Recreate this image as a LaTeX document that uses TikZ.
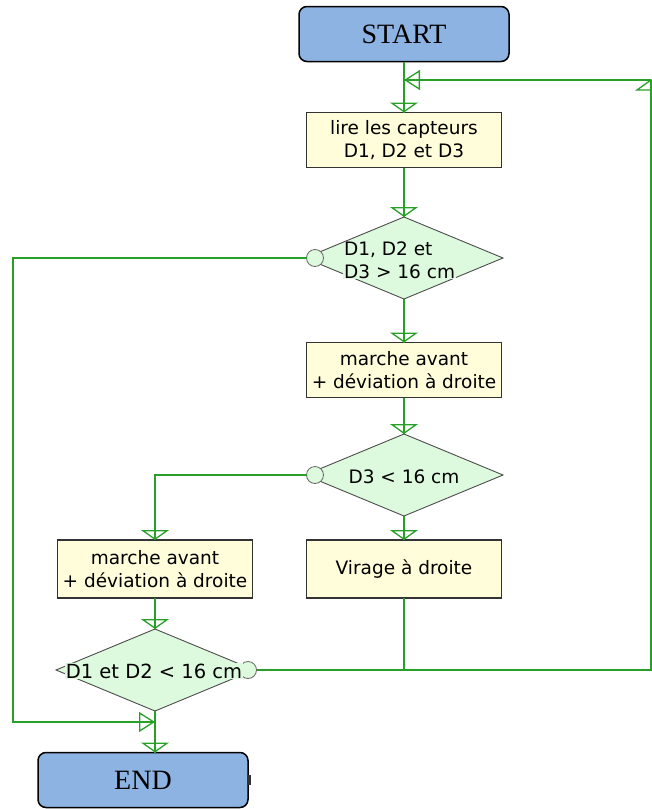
\documentclass[tikz,border=0pt]{standalone}
\usepackage{fontspec}
\newfontfamily\sansb{DejaVu Sans}
\newfontfamily\serifb{Liberation Serif}
\usetikzlibrary{shapes.geometric,arrows.meta,calc}
\definecolor{lgreen}{RGB}{40,160,40}
\definecolor{dfill}{RGB}{222,250,222}
\definecolor{bfill}{RGB}{255,253,218}
\definecolor{sblue}{RGB}{141,179,226}
\begin{document}
\begin{tikzpicture}[x=1pt,y=-1pt,
  term/.style={draw=black, line width=1.5pt, rounded corners=8pt, fill=sblue,
    minimum width=210pt, minimum height=55pt, inner sep=0pt, outer sep=0pt,
    font=\serifb\fontsize{28}{30}\selectfont},
  proc/.style={draw=black!80, line width=1.3pt, fill=bfill, minimum width=195pt,
    minimum height=55pt, inner sep=0pt, outer sep=0pt, align=center,
    font=\sansb\fontsize{18.5}{23}\selectfont},
  dec/.style={diamond, draw=black!70, line width=0.9pt, fill=dfill,
    minimum width=198pt, minimum height=82pt, inner sep=0pt, outer sep=0pt},
  circ/.style={circle, draw=black!60, line width=0.8pt, fill=dfill,
    minimum size=17pt, inner sep=0pt, outer sep=0pt},
  dtext/.style={inner sep=1pt, font=\sansb\fontsize{18.5}{23}\selectfont},
  flow/.style={draw=lgreen, line width=1.6pt},
  arrd/.style={flow, postaction={draw=lgreen, line width=1.3pt,
    -{Triangle[open, width=28pt, length=10pt]}}},
  arrs/.style={flow, postaction={draw=lgreen, line width=1.3pt,
    -{Triangle[open, width=20pt, length=16pt]}}}
]
\useasboundingbox (0,0) rectangle (652,809);
\clip (0,0) rectangle (652,809);

% nodes
\node[term] (start) at (404,34) {START};
\node[proc] (box1) at (404,140) {lire les capteurs\\D1, D2 et D3};
\node[dec] (d1) at (404,258) {};
\node[circ] (k1) at (315,258) {};
\node[proc] (box2) at (404,370) {marche avant\\+ déviation à droite};
\node[dec] (d2) at (404,475) {};
\node[circ] (k2) at (315,475) {};
\node[proc, minimum height=58pt] (box3) at (155,569) {marche avant\\+ déviation à droite};
\node[proc, minimum height=58pt] (box4) at (404,569) {Virage à droite};
\node[dec] (d3) at (155,670) {};
\node[circ] (k3) at (248,670) {};
\node[term] (end) at (143,780) {END};
\fill[black!80] (247,775) rectangle (251,785);

% diamond texts
\node[dtext, anchor=base west] (t1a) at (343,255) {D1, D2 et};
\node[dtext, anchor=base west, fill=dfill] (t1b) at (343,278) {D3 > 16 cm};
\node[dtext, anchor=base] (t2) at (404,483) {D3 < 16 cm};
\node[dtext, anchor=base, fill=dfill, font=\sansb\fontsize{19.5}{23}\selectfont] (t3) at (154,678) {D1 et D2 < 16 cm};

% coordinates
\coordinate (m1) at (404,80);
\coordinate (c1) at (404,670);
\coordinate (r1) at (651,670);
\coordinate (r2) at (651,80);
\coordinate (l1) at (13,258);
\coordinate (m2) at (155,722);

% connectors
\draw[flow] (start.south) -- (m1);
\draw[arrd] (m1) -- (box1.north);
\draw[arrd] (box1.south) -- (d1.north);
\draw[arrd] (d1.south) -- (box2.north);
\draw[arrd] (box2.south) -- (d2.north);
\draw[arrd] (d2.south) -- (box4.north);
\draw[arrd] (k2.west) -| (box3.north);
\draw[arrd] (box3.south) -- (d3.north);
\draw[flow] (box4.south) -- (c1) -- (r1) -- (r2);
\draw[arrs] (r2) -- (m1);
\draw[flow, line width=1.3pt] (r2) -- ++(-14,10) -- ++(28,0) -- cycle;
\draw[flow] (k3.east) -- (c1);
\draw[arrs] (k1.west) -- (l1) |- (m2);
\draw[flow] (d3.south) -- (m2);
\draw[arrd] (m2) -- (m2 |- end.north);
\end{tikzpicture}
\end{document}
